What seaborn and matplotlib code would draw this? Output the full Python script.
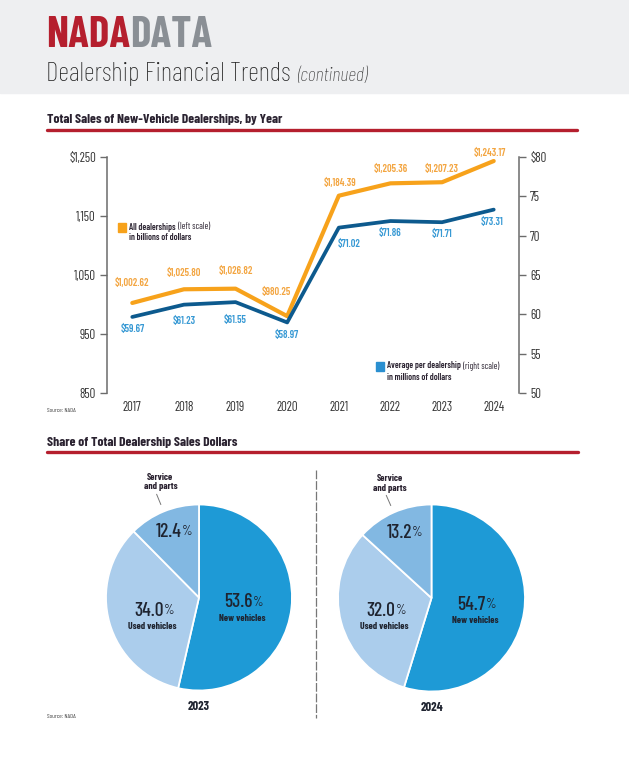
import numpy as np
import pandas as pd
import seaborn as sns
import matplotlib.pyplot as plt
from matplotlib.patches import Rectangle
from matplotlib.lines import Line2D

# data
years = [2017, 2018, 2019, 2020, 2021, 2022, 2023, 2024]
all_dealers = [1002.62, 1025.80, 1026.82, 980.25, 1184.39, 1205.36, 1207.23, 1243.17]
avg_dealer = [59.67, 61.23, 61.55, 58.97, 71.02, 71.86, 71.71, 73.31]

left_ticks = [850, 950, 1050, 1150, 1250]
left_tick_labels = ['850', '950', '1,050', '1,150', '$1,250']
right_ticks = [50, 55, 60, 65, 70, 75, 80]
right_tick_labels = ['50', '55', '60', '65', '70', '75', '$80']

share_labels = ['New vehicles', 'Used vehicles', 'Service\nand parts']
share_2023 = [53.6, 34.0, 12.4]
share_2024 = [54.7, 32.0, 13.2]

# label nudges in pixels (layout only)
orange_off = [(0, 20), (0, 16), (0, 18), (-11, 24), (1, 13), (0, 14), (0, 13), (-4, 8)]
blue_off = [(0, -12), (0, -16), (0, -18), (0, -13), (10, -16), (0, -12), (0, -12), (-2, -12)]

W, H = 629, 758
sns.set_theme(style='white')
plt.rcParams['font.family'] = ['Barlow Condensed', 'DejaVu Sans']

ORANGE = '#f7a21b'
ORANGE_TXT = '#f3a540'
NAVY = '#0d5a8e'
BLUE_TXT = '#3799d4'
RED = '#b51f2e'
DARK = '#2a2230'
GREY = '#6b6b6b'


def fx(x):
    return x / W


def fy(y):
    return 1 - y / H


fig = plt.figure(figsize=(W / 100, H / 100), dpi=100)

# header band
fig.patches.append(Rectangle((0, fy(93)), 1, 93 / H, transform=fig.transFigure,
                             color='#eeeff1', zorder=0))
t = fig.text(fx(46), fy(47), 'NADA', fontsize=31, fontweight='bold', color=RED, va='baseline')
fig.canvas.draw()
bb = t.get_window_extent()
fig.text(bb.x1 / W, fy(47), 'DATA', fontsize=31, fontweight='bold', color='#8a8f95',
         va='baseline')
t2 = fig.text(fx(46), fy(81), 'Dealership Financial Trends', fontsize=19.5, color='#222222',
              va='baseline', fontweight='light')
fig.canvas.draw()
bb2 = t2.get_window_extent()
fig.text(bb2.x1 / W + fx(7), fy(81), '(continued)', fontsize=14.5, color='#333333',
         va='baseline', style='italic', fontweight='light')

# section 1 heading
fig.text(fx(47), fy(123), 'Total Sales of New-Vehicle Dealerships, by Year', fontsize=9.8,
         fontweight='bold', color=DARK, va='baseline')
fig.add_artist(Line2D([fx(47), fx(577)], [fy(129.5), fy(129.5)], color=RED, lw=2.4))

# line chart
ax = fig.add_axes([fx(107), fy(393), fx(519) - fx(107), fy(157) - fy(393)])
ax2 = ax.twinx()
pos = np.arange(len(years))
df = pd.DataFrame({'pos': pos, 'all': all_dealers, 'avg': avg_dealer})
sns.lineplot(data=df, x='pos', y='all', ax=ax, color=ORANGE, lw=3.0)
sns.lineplot(data=df, x='pos', y='avg', ax=ax2, color=NAVY, lw=2.7)

ax.set_xlim(-0.49, len(years) - 0.51)
ax.set_ylim(850, 1250)
ax2.set_ylim(50, 80)
ax.set_xticks(pos)
ax.set_xticklabels([str(y) for y in years])
ax.set_yticks(left_ticks)
ax.set_yticklabels(left_tick_labels)
ax2.set_yticks(right_ticks)
ax2.set_yticklabels(right_tick_labels)
ax.set_xlabel('')
ax.set_ylabel('')
ax2.set_ylabel('')
for a in (ax, ax2):
    for s in ('top', 'bottom'):
        a.spines[s].set_visible(False)
    a.set_facecolor('none')
ax.spines['right'].set_visible(False)
ax2.spines['left'].set_visible(False)
ax.spines['left'].set_color(GREY)
ax2.spines['right'].set_color(GREY)
ax.spines['left'].set_linewidth(1.1)
ax2.spines['right'].set_linewidth(1.1)
ax.tick_params(axis='y', left=True, length=5, width=1, color=GREY, labelsize=9.3,
               labelcolor='#333333', pad=3)
ax.tick_params(axis='x', bottom=False, length=0, labelsize=9.3, labelcolor='#333333', pad=6)
ax2.tick_params(axis='y', right=True, length=5, width=1, color=GREY, labelsize=9.3,
                labelcolor='#333333', pad=3)

for i, v in enumerate(all_dealers):
    ax.annotate(f'${v:,.2f}', (pos[i], v), xytext=orange_off[i], textcoords='offset pixels',
                ha='center', va='center', fontsize=7.5, fontweight='semibold', color=ORANGE_TXT)
for i, v in enumerate(avg_dealer):
    ax2.annotate(f'${v:,.2f}', (pos[i], v), xytext=blue_off[i], textcoords='offset pixels',
                 ha='center', va='center', fontsize=7.5, fontweight='semibold', color=BLUE_TXT)


def legend_item(x, y, color, bold, light, line2):
    fig.patches.append(Rectangle((fx(x), fy(y + 5)), 8 / W, 9 / H, transform=fig.transFigure,
                                 color=color))
    tt = fig.text(fx(x + 11), fy(y), bold, fontsize=6.5, fontweight='semibold', color=DARK,
                  va='center')
    fig.canvas.draw()
    b = tt.get_window_extent()
    fig.text(b.x1 / W + 2 / W, fy(y), light, fontsize=6.5, color=DARK, va='center')
    fig.text(fx(x + 11), fy(y + 11), line2, fontsize=6.5, fontweight='semibold', color=DARK,
             va='center')


legend_item(118, 227, ORANGE, 'All dealerships', '(left scale)', 'in billions of dollars')
legend_item(376, 366, '#2a8fd0', 'Average per dealership', '(right scale)', 'in millions of dollars')

fig.text(fx(47), fy(410), 'Source: NADA', fontsize=4.5, color='#444444', va='center')

# section 2 heading
fig.text(fx(47), fy(446), 'Share of Total Dealership Sales Dollars', fontsize=9.8,
         fontweight='bold', color=DARK, va='baseline')
fig.add_artist(Line2D([fx(47), fx(578)], [fy(452.5), fy(452.5)], color=RED, lw=2.4))
fig.add_artist(Line2D([fx(316), fx(316)], [fy(470), fy(718)], color='#777777', lw=0.9,
                      linestyle=(0, (7, 1.5))))

pie_colors = ['#1e9ad6', '#abcdec', '#82b8e2']
text_r = [0.47, 0.52, 0.76]


def draw_pie(cx, cy, r, values, year):
    pax = fig.add_axes([fx(cx - r), fy(cy + r), 2 * r / W, 2 * r / H])
    wedges, _ = pax.pie(values, colors=pie_colors, startangle=90, counterclock=False,
                        radius=1, wedgeprops=dict(edgecolor='white', linewidth=1.3))
    pax.set_xlim(-1, 1)
    pax.set_ylim(-1, 1)
    pax.axis('off')
    for i, w in enumerate(wedges):
        mid = np.deg2rad((w.theta1 + w.theta2) / 2)
        x, y = text_r[i] * np.cos(mid), text_r[i] * np.sin(mid)
        pt = pax.text(x - 0.04, y, f'{values[i]:.1f}', ha='center', va='center', fontsize=14,
                      color='#1f2430', fontweight='medium')
        pax.annotate('%', xy=(1, 1), xycoords=pt, xytext=(0.3, -1.5), textcoords='offset points',
                     ha='left', va='top', fontsize=9.5, color='#1f2430')
        if i < 2:
            pax.text(x, y - 0.17, share_labels[i], ha='center', va='center', fontsize=7,
                     fontweight='bold', color='#1f2430')
        else:
            x0, y0 = 1.08 * np.cos(mid), 1.08 * np.sin(mid)
            x1, y1 = 1.2 * np.cos(mid), 1.2 * np.sin(mid)
            pax.plot([x0, x1], [y0, y1], color='#777777', lw=0.7, clip_on=False)
            pax.text(x1 + 0.04, y1 + 0.03, share_labels[i], ha='center', va='bottom',
                     fontsize=7, fontweight='bold', color=DARK, linespacing=1.05)
    pax.text(0, -1.17, str(year), ha='center', va='center', fontsize=9,
             fontweight='bold', color='#1f2430')


draw_pie(199, 597.5, 93, share_2023, 2023)
draw_pie(431.5, 598, 93.5, share_2024, 2024)

fig.text(fx(47), fy(717), 'Source: NADA', fontsize=4.5, color='#444444', va='center')

fig.savefig('out.png', dpi=100)
